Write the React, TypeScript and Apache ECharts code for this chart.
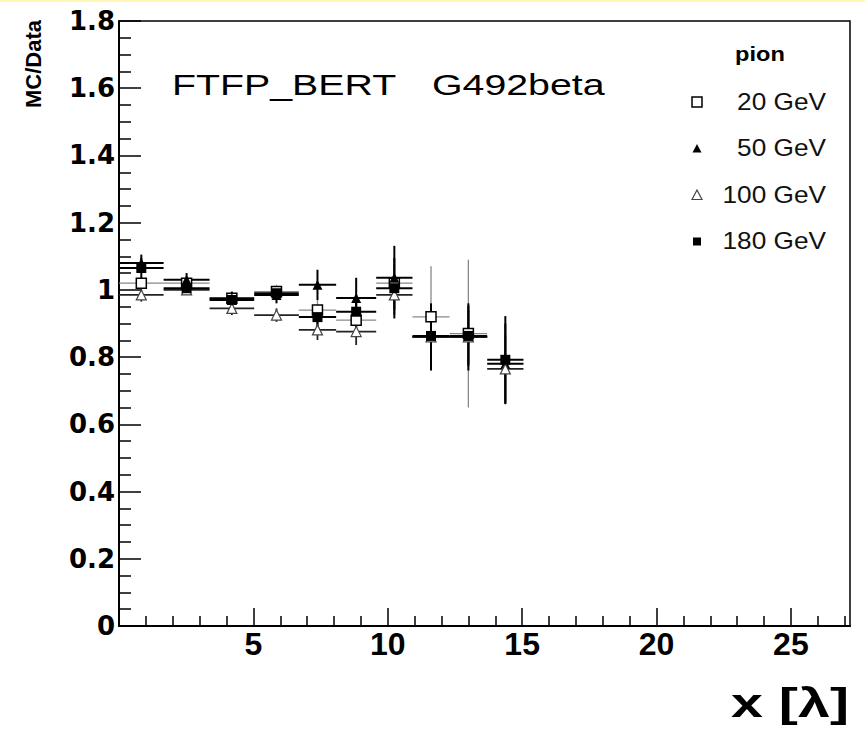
import React, { useEffect, useRef } from "react";
import * as echarts from "echarts";

// Bin edges along x [lambda]
const binLow = [0, 1.66, 3.37, 5.03, 6.69, 8.08, 9.57, 10.92, 12.3, 13.7];
const binHigh = [1.66, 3.37, 5.03, 6.69, 8.08, 9.57, 10.92, 12.3, 13.7, 15.05];

// MC/Data ratio per energy (null = no point)
const ratio20 = [1.02, 1.02, 0.975, 0.995, 0.94, 0.91, 1.02, 0.92, 0.87, null];
const ratio50 = [1.08, 1.03, 0.975, 0.985, 1.015, 0.976, 1.036, 0.86, 0.86, 0.78];
const ratio100 = [0.985, 1.0, 0.945, 0.925, 0.881, 0.876, 0.985, 0.86, 0.86, 0.765];
const ratio180 = [1.065, 1.005, 0.97, 0.99, 0.919, 0.935, 1.005, 0.863, 0.863, 0.792];

// vertical errors
const err20 = [0.02, 0.015, 0.015, 0.02, 0.03, 0.04, 0.05, 0.15, 0.22, 0];
const err50 = [0.025, 0.02, 0.02, 0.025, 0.045, 0.06, 0.095, 0.1, 0.1, 0.12];
const err100 = [0.02, 0.015, 0.02, 0.02, 0.03, 0.04, 0.06, 0.08, 0.08, 0.1];
const err180 = [0.03, 0.015, 0.015, 0.02, 0.03, 0.05, 0.09, 0.095, 0.09, 0.13];

const seriesNames = ["20 GeV", "50 GeV", "100 GeV", "180 GeV"];

// axis ticks
const majorX = [5, 10, 15, 20, 25];
const minorX = [1, 2, 3, 4, 6, 7, 8, 9, 11, 12, 13, 14, 16, 17, 18, 19, 21, 22, 23, 24, 26, 27];

function buildData(vals: (number | null)[], errs: number[]) {
  const out: number[][] = [];
  vals.forEach((v, i) => {
    if (v === null) return;
    out.push([(binLow[i] + binHigh[i]) / 2, v, binLow[i], binHigh[i], errs[i]]);
  });
  return out;
}

export default function App() {
  const ref = useRef<HTMLDivElement>(null);
  useEffect(() => {
    if (!ref.current) return;
    const chart = echarts.init(ref.current, null, { renderer: "svg" });
    const sets = [
      { name: seriesNames[0], data: buildData(ratio20, err20), stroke: "#888", lw: 1.3, symbol: "rect", size: 10, fill: "#fff", border: "#000", bw: 1.5 },
      { name: seriesNames[1], data: buildData(ratio50, err50), stroke: "#000", lw: 2, symbol: "triangle", size: 10, fill: "#000", border: "#000", bw: 0 },
      { name: seriesNames[2], data: buildData(ratio100, err100), stroke: "#222", lw: 1.8, symbol: "triangle", size: 10, fill: "#fff", border: "#444", bw: 1.2 },
      { name: seriesNames[3], data: buildData(ratio180, err180), stroke: "#000", lw: 2, symbol: "rect", size: 10, fill: "#000", border: "#000", bw: 0 },
    ];
    const errSeries = sets.map((s) => ({
      type: "custom",
      name: s.name + " err",
      xAxisIndex: 0,
      yAxisIndex: 0,
      data: s.data,
      clip: true,
      silent: true,
      encode: { x: 0, y: 1 },
      renderItem: (params: any, api: any) => {
        const x = api.value(0);
        const y = api.value(1);
        const xl = api.value(2);
        const xh = api.value(3);
        const e = api.value(4);
        const pL = api.coord([xl, y]);
        const pR = api.coord([xh, y]);
        const pT = api.coord([x, y + e]);
        const pB = api.coord([x, y - e]);
        return {
          type: "group",
          children: [
            { type: "line", shape: { x1: pL[0], y1: pL[1], x2: pR[0], y2: pR[1] }, style: { stroke: s.stroke, lineWidth: s.lw } },
            { type: "line", shape: { x1: pT[0], y1: pT[1], x2: pB[0], y2: pB[1] }, style: { stroke: s.stroke, lineWidth: s.lw } },
          ],
        };
      },
    }));
    const markSeries = sets.map((s) => ({
      type: "scatter",
      name: s.name,
      xAxisIndex: 0,
      yAxisIndex: 0,
      data: s.data.map((d) => [d[0], d[1]]),
      symbol: s.symbol,
      symbolSize: s.size,
      itemStyle: { color: s.fill, borderColor: s.border, borderWidth: s.bw, opacity: 1 },
      silent: true,
    }));

    const yLabelFont = { fontFamily: "DejaVu Sans", fontWeight: "bold", fontSize: 26, color: "#000" };
    const legendY = [102, 148.5, 195, 241.5];

    chart.setOption({
      animation: false,
      backgroundColor: "#fff",
      grid: { left: 119, right: 15, top: 21, bottom: 103, show: true, borderColor: "#000", borderWidth: 1.5, backgroundColor: "transparent" },
      xAxis: [
        {
          type: "value",
          min: 0,
          max: 27.2,
          position: "bottom",
          axisLine: { show: true, lineStyle: { color: "#000", width: 2 } },
          axisTick: { show: true, inside: true, length: 18, customValues: majorX, lineStyle: { color: "#000", width: 1.5 } },
          axisLabel: {
            show: true,
            customValues: majorX,
            margin: 2,
            fontFamily: "Liberation Sans",
            fontWeight: "bold",
            fontSize: 32,
            color: "#000",
          },
          splitLine: { show: false },
        },
        {
          type: "value",
          min: 0,
          max: 27.2,
          position: "bottom",
          axisLine: { show: false },
          axisTick: { show: true, inside: true, length: 10, customValues: minorX, lineStyle: { color: "#000", width: 1.5 } },
          axisLabel: { show: false },
          splitLine: { show: false },
        },
      ],
      yAxis: {
        type: "value",
        min: 0,
        max: 1.8,
        interval: 0.2,
        axisLine: { show: true, lineStyle: { color: "#000", width: 2 } },
        axisTick: { show: true, inside: true, length: 22, lineStyle: { color: "#000", width: 1.5 } },
        minorTick: { show: true, splitNumber: 4, length: 12, lineStyle: { color: "#000", width: 1.5 } },
        axisLabel: { margin: 4, ...yLabelFont },
        splitLine: { show: false },
        minorSplitLine: { show: false },
      },
      series: [...errSeries, ...markSeries],
      graphic: [
        { type: "rect", shape: { x: 0, y: 0, width: 865, height: 2 }, style: { fill: "#fff6b8" }, silent: true },
        {
          type: "text",
          x: 33,
          y: 64,
          rotation: Math.PI / 2,
          style: { text: "MC/Data", fontFamily: "Liberation Sans", fontWeight: "bold", fontSize: 22, fill: "#000", align: "center", verticalAlign: "middle" },
        },
        {
          type: "text",
          x: 172,
          y: 84,
          scaleX: 1.31,
          style: { text: "FTFP_BERT", fontFamily: "Liberation Sans", fontSize: 30, fill: "#000", align: "left", verticalAlign: "middle" },
        },
        {
          type: "text",
          x: 432,
          y: 84,
          scaleX: 1.31,
          style: { text: "G492beta", fontFamily: "Liberation Sans", fontSize: 30, fill: "#000", align: "left", verticalAlign: "middle" },
        },
        {
          type: "text",
          x: 760,
          y: 54.6,
          scaleX: 1.18,
          style: { text: "pion", fontFamily: "Liberation Sans", fontWeight: "bold", fontSize: 20, fill: "#000", align: "center", verticalAlign: "middle" },
        },
        ...seriesNames.map((n, i) => ({
          type: "text",
          x: 826,
          y: legendY[i],
          scaleX: 1.14,
          style: { text: n, fontFamily: "Liberation Sans", fontSize: 23, fill: "#111", align: "right", verticalAlign: "middle" },
        })),
        { type: "rect", shape: { x: 692, y: legendY[0] - 5, width: 10, height: 10 }, style: { fill: "#fff", stroke: "#000", lineWidth: 1.5 } },
        { type: "polygon", shape: { points: [[697, legendY[1] - 4.5], [701.5, legendY[1] + 4], [692.5, legendY[1] + 4]] }, style: { fill: "#000" } },
        { type: "polygon", shape: { points: [[697, legendY[2] - 5], [702, legendY[2] + 4.5], [692, legendY[2] + 4.5]] }, style: { fill: "#fff", stroke: "#444", lineWidth: 1.2 } },
        { type: "rect", shape: { x: 693, y: legendY[3] - 4, width: 8, height: 8 }, style: { fill: "#000" } },
        {
          type: "text",
          x: 849,
          y: 703,
          scaleX: 1.4,
          style: { text: "x [λ]", fontFamily: "Liberation Sans", fontWeight: "bold", fontSize: 41, fill: "#000", align: "right", verticalAlign: "middle" },
        },
      ],
    });
    return () => chart.dispose();
  }, []);
  return <div ref={ref} style={{ position: "absolute", left: 0, top: 0, width: 865, height: 729, background: "#fff" }} />;
}
